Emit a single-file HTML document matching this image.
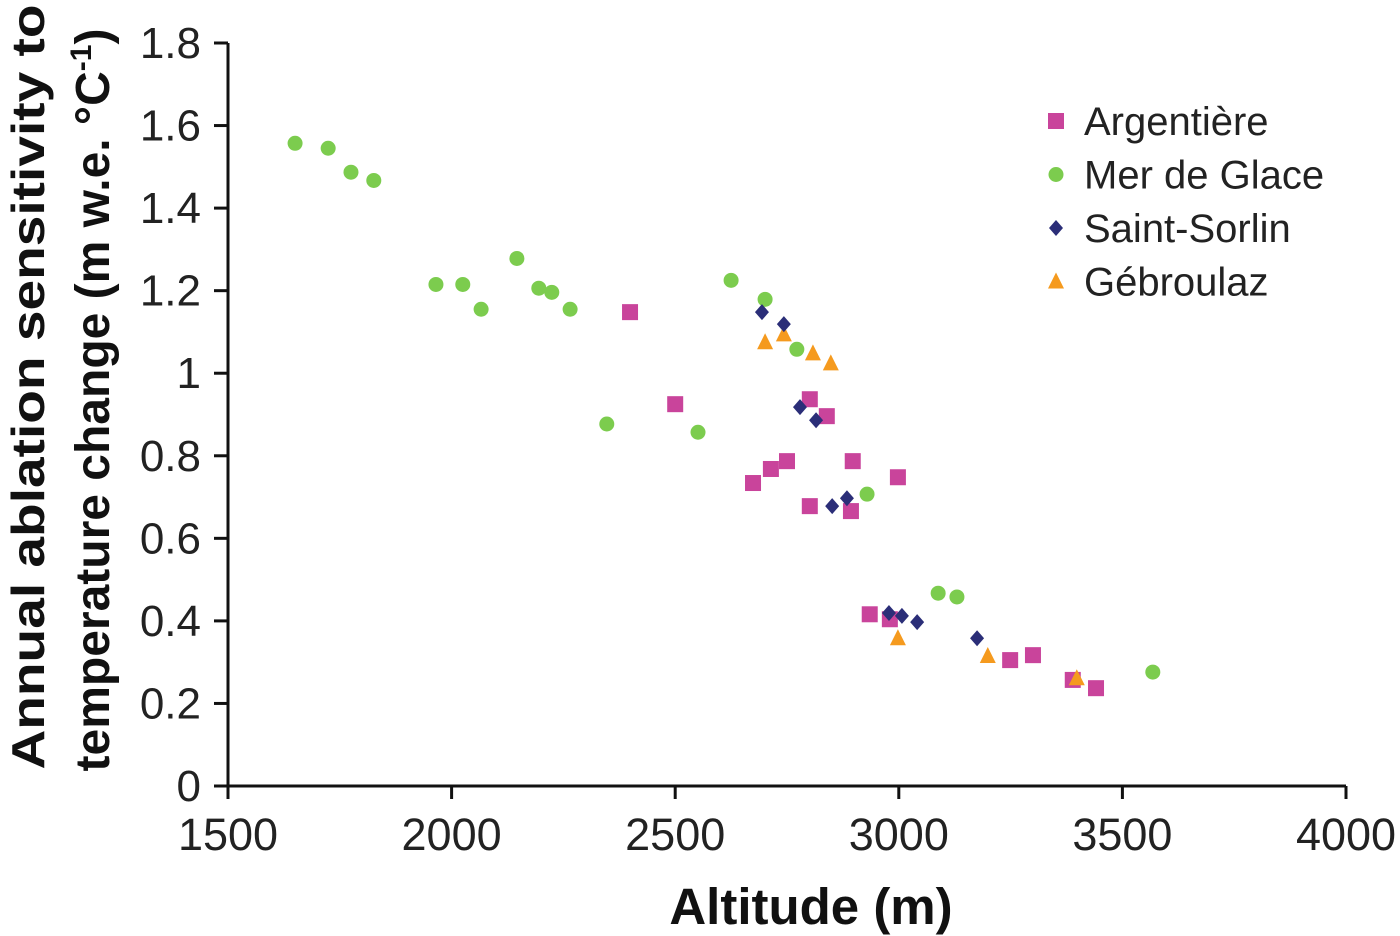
<!DOCTYPE html>
<html><head><meta charset="utf-8"><style>
html,body{margin:0;padding:0;background:#fff;}
svg{display:block;font-family:"Liberation Sans",sans-serif;}
</style></head><body>
<svg id="chart" width="1400" height="936" viewBox="0 0 1400 936"></svg>
<script>
const xTicks=[1500,2000,2500,3000,3500,4000];
const yTicks=[0,0.2,0.4,0.6,0.8,1,1.2,1.4,1.6,1.8];
const yTickLabels=["0","0.2","0.4","0.6","0.8","1","1.2","1.4","1.6","1.8"];
const argX=[2399,2500,2674,2714,2750,2801,2839,2897,2801,2893,2998,2935,2980,3249,3300,3389,3441];
const argY=[1.148,0.925,0.734,0.768,0.787,0.937,0.896,0.787,0.678,0.666,0.748,0.416,0.404,0.305,0.317,0.257,0.237];
const merX=[1650,1724,1775,1826,1965,2025,2066,2146,2195,2224,2265,2347,2551,2625,2701,2772,2929,3088,3130,3568];
const merY=[1.557,1.545,1.487,1.467,1.215,1.215,1.155,1.278,1.206,1.196,1.155,0.877,0.857,1.225,1.179,1.058,0.707,0.467,0.458,0.276];
const ssX=[2694,2743,2779,2815,2851,2884,2978,3007,3041,3175];
const ssY=[1.148,1.119,0.918,0.886,0.678,0.697,0.419,0.412,0.397,0.358];
const gebX=[2701,2743,2808,2848,2998,3199,3398];
const gebY=[1.075,1.094,1.048,1.024,0.358,0.315,0.261];

const NS="http://www.w3.org/2000/svg";
const svg=document.getElementById('chart');
const X0=228,X1=1346,Y0=786,Y1=43;
const xs=v=>X0+(v-1500)/(4000-1500)*(X1-X0);
const ys=v=>Y0-v/1.8*(Y0-Y1);
function mk(tag,attrs,parent){const e=document.createElementNS(NS,tag);for(const k in attrs)e.setAttribute(k,attrs[k]);(parent||svg).appendChild(e);return e;}

let ax=mk('line',{x1:X0,y1:Y0,x2:X1,y2:Y0,stroke:'#111','stroke-width':3});


let ay=mk('line',{x1:X0,y1:Y0,x2:X0,y2:Y1,stroke:'#111','stroke-width':3});



xTicks.forEach(v=>{
  const t=mk('line',{x1:xs(v),y1:Y0,x2:xs(v),y2:Y0+13,stroke:'#111','stroke-width':3});
  
  
  const l=mk('text',{x:xs(v),y:850,'text-anchor':'middle','font-size':45,fill:'#222'});
  l.textContent=v;
  
  
});
yTicks.forEach((v,i)=>{
  const t=mk('line',{x1:X0-14,y1:ys(v),x2:X0,y2:ys(v),stroke:'#111','stroke-width':3});
  
  
  const l=mk('text',{x:201,y:ys(v)+15,'text-anchor':'end','font-size':44,fill:'#222'});
  l.textContent=yTickLabels[i];
  
  
});

const xt=mk('text',{x:811,y:924,'text-anchor':'middle','font-size':51,'font-weight':'bold',fill:'#111'});
xt.textContent='Altitude (m)';


const yt1=mk('text',{transform:'translate(44,387) rotate(-90)','text-anchor':'middle','font-size':46,'font-weight':'bold',fill:'#111',textLength:765,lengthAdjust:'spacingAndGlyphs'});
yt1.textContent='Annual ablation sensitivity to';


const yt2=mk('text',{transform:'translate(109,400) rotate(-90)','text-anchor':'middle','font-size':48,'font-weight':'bold',fill:'#111'});
yt2.innerHTML='temperature change (m w.e. °C<tspan dy="-18" font-size="30">-1</tspan><tspan dy="18">)</tspan>';



function square(x,y,c){return mk('rect',{x:x-8,y:y-8,width:16,height:16,fill:c});}
function circle(x,y,c){return mk('circle',{cx:x,cy:y,r:7.5,fill:c});}
function diamond(x,y,c){return mk('path',{d:`M${x} ${y-8}L${x+7} ${y}L${x} ${y+8}L${x-7} ${y}Z`,fill:c});}
function tri(x,y,c){return mk('path',{d:`M${x} ${y-9}L${x+8} ${y+7}L${x-8} ${y+7}Z`,fill:c});}

const series=[
 {xs:merX,ysv:merY,c:'#7ccc4e',f:circle,nm:'mer-de-glace-point'},
 {xs:argX,ysv:argY,c:'#c9449b',f:square,nm:'argentiere-point'},
 {xs:gebX,ysv:gebY,c:'#f59a1e',f:tri,nm:'gebroulaz-point'},
 {xs:ssX,ysv:ssY,c:'#2b2e78',f:diamond,nm:'saint-sorlin-point'}
];
series.forEach(s=>{
  s.xs.forEach((v,i)=>{
    const e=s.f(xs(v),ys(s.ysv[i]),s.c);
    
    
  });
});

const leg=[['Argentière','#c9449b',square,'legend-argentiere'],['Mer de Glace','#7ccc4e',circle,'legend-mer-de-glace'],['Saint-Sorlin','#2b2e78',diamond,'legend-saint-sorlin'],['Gébroulaz','#f59a1e',tri,'legend-gebroulaz']];
leg.forEach((l,i)=>{
  const y=121+i*53.5;
  const m=l[2](1056,y,l[1]);
  
  
  const t=mk('text',{x:1084,y:y+14,'font-size':40,fill:'#222'});
  t.textContent=l[0];
  
  
});
</script>
</body></html>
